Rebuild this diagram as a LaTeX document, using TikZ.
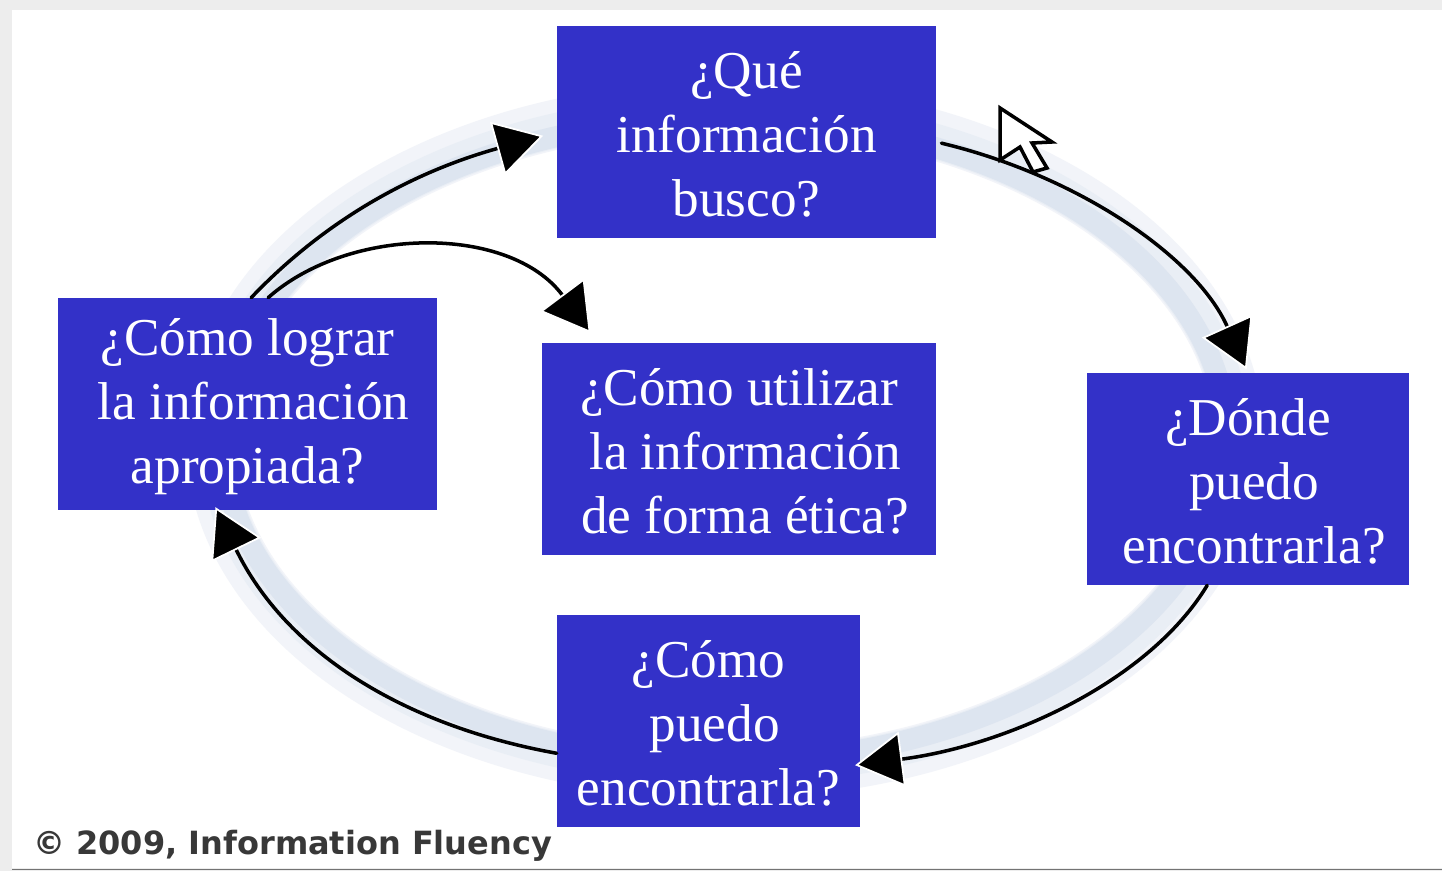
\documentclass[tikz,border=0pt]{standalone}
\usepackage{fontspec}
\setmainfont{Liberation Serif}
\newfontfamily\notefont{DejaVu Sans}
\usetikzlibrary{arrows.meta}
\definecolor{boxblue}{HTML}{3331C8}
\definecolor{ringpale}{HTML}{F2F4F9}
\definecolor{ringmid}{HTML}{E9EEF5}
\definecolor{ringdark}{HTML}{DDE5F0}
\newcommand{\nudge}{\hspace*{7pt}}
\newcommand{\lift}{\rule{0pt}{24pt}}
\tikzset{
  question/.style={fill=boxblue,text=white,inner sep=0pt,align=center,minimum height=4.24cm,
    font=\fontsize{30.3}{36.3}\selectfont},
  flow/.style={line width=2pt,line cap=round,
    -{Triangle[length=0.95cm,width=1.1cm,fill=black,color=white,line width=1pt]}}
}
\begin{document}
\begin{tikzpicture}[x=0.02cm,y=-0.02cm]
\useasboundingbox (0,0) rectangle (1442,871);
\fill[black!7] (0,0) rectangle (1442,871);
\fill[white] (12,10) rectangle (1442,868);
\draw[black!55,line width=1pt] (12,869.5) -- (1442,869.5);
% ring
\draw[ringpale,line width=1cm] (725,440) ellipse [x radius=514,y radius=334];
\draw[ringmid,line width=0.7cm] (725,440) ellipse [x radius=508,y radius=328];
\draw[ringdark,line width=0.42cm] (725,440) ellipse [x radius=502,y radius=322];
% questions
\node[question,minimum width=7.58cm] (que) at (746.5,132) {\lift ¿Qué\\información\\busco?};
\node[question,minimum width=6.44cm] (donde) at (1248,479) {\lift ¿Dónde\\\nudge puedo\\\nudge encontrarla?};
\node[question,minimum width=6.06cm] (como) at (708.5,721) {\lift ¿Cómo\\\nudge puedo\\encontrarla?};
\node[question,minimum width=7.58cm] (lograr) at (247.5,404) {\lift ¿Cómo lograr\\\nudge la información\\apropiada?};
\node[question,minimum width=7.88cm] (etica) at (739,449) {\lift ¿Cómo utilizar\\\nudge la información\\\nudge de forma ética?};
% cursor
\draw[black,fill=white,line width=2pt,line join=miter] (1000,108) -- (1000,160) -- (1020,147) -- (1033,172)
  -- (1047,168) -- (1032,143) -- (1052,142) -- cycle;
% arrows
\draw[flow,shorten <=3pt,shorten >=2pt] (que.-3) .. controls (1075,175) and (1195,255) .. (donde.north);
\draw[flow,shorten >=-3pt] (donde.-111) .. controls (1150,680) and (1010,745) .. (como.-16);
\draw[flow,shorten >=-2pt] (como.192) .. controls (400,725) and (285,650) .. (lograr.-106);
\draw[flow,shorten >=8pt] (lograr.88) .. controls (330,215) and (420,170) .. (que.west);
\draw[flow,shorten >=7pt] (lograr.79) .. controls (350,225) and (510,225) .. (etica.143);
\node[font=\notefont\bfseries\fontsize{18.2}{20}\selectfont,text=black!78,anchor=west,inner sep=0pt] (nota) at (33,846)
  {© 2009, Information Fluency};
\end{tikzpicture}
\end{document}
